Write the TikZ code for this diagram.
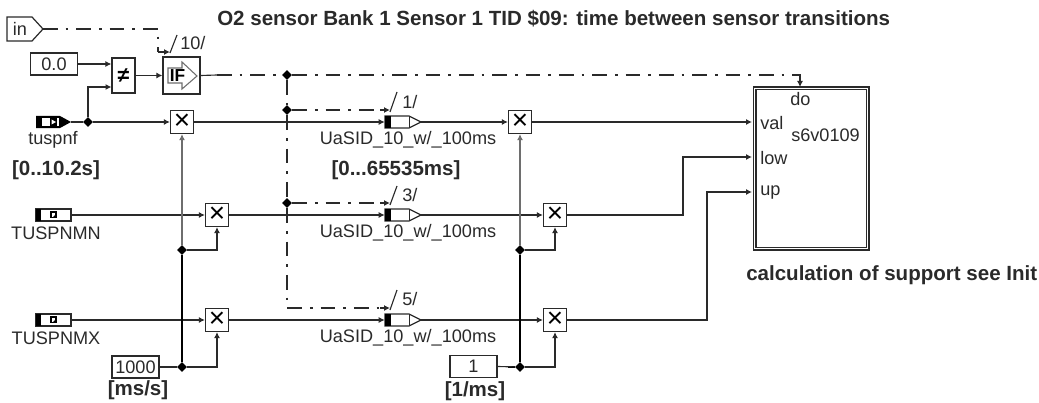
\documentclass[tikz,border=0pt]{standalone}
\usepackage{fontspec}
\setmainfont{Liberation Sans}
\usetikzlibrary{arrows.meta,positioning,calc,shapes.geometric}
\definecolor{ink}{HTML}{2A2A2A}
\definecolor{wiregray}{HTML}{6E6E6E}
\def\px{0.75pt}
\tikzset{
  txt/.style={inner sep=0pt, font=\fontsize{13.6}{16}\selectfont, text=ink},
  boldtxt/.style={inner sep=0pt, font=\bfseries\fontsize{15.4}{18}\selectfont, text=ink},
  wire/.style={draw=ink, line width=0.85pt},
  graywire/.style={draw=wiregray, line width=1.5pt},
  bus/.style={draw=black, line width=2.2pt},
  ctrl/.style={draw=ink, line width=0.85pt, dash pattern=on 11pt off 6pt on 2pt off 6pt},
  mulbox/.style={draw=ink, fill=white, line width=0.9pt, minimum size=23*\px, inner sep=0pt,
    font=\fontsize{21}{21}\selectfont},
  constbox/.style={draw=ink, fill=white, line width=0.9pt, minimum width=47*\px, minimum height=22*\px,
    inner sep=0pt, font=\fontsize{13.6}{16}\selectfont, text=ink},
  junction/.style={diamond, fill=black, minimum size=10*\px, inner sep=0pt},
  iconframe/.style={minimum width=36*\px, minimum height=12*\px, inner sep=0pt},
}
% output block with black foot and open tip
\newcommand{\outicon}[2]{
  \node[iconframe] (#1) at (403,#2) {};
  \fill[white] (391,#2-6) rectangle (409,#2+6);
  \draw[draw=ink, line width=0.9pt] (385,#2-6) -- (409,#2-6) -- (421,#2) -- (409,#2+6) -- (385,#2+6) -- cycle;
  \draw[draw=ink, line width=0.7pt] (409,#2-6) -- (409,#2+6);
  \fill[black] (385,#2-6) rectangle (391,#2+6);
}
% parameter block with notched glyph
\newcommand{\parmicon}[2]{
  \node[iconframe] (#1) at (53,#2) {};
  \draw[draw=ink, line width=0.9pt, fill=white] (36,#2-6) rectangle (71,#2+6);
  \fill[black] (36,#2-6) rectangle (41,#2+6);
  \fill[black] (50,#2-4) rectangle (57,#2+3);
  \fill[white] (51.5,#2-2.5) rectangle (55,#2+2) ;
  \fill[black] (53,#2+2) -- (55,#2+2) -- (55,#2) -- cycle;
}
\begin{document}
\begin{tikzpicture}[x=0.75pt, y=-0.75pt, >={Latex[length=4.5pt,width=4.5pt]}]
\useasboundingbox (0,0) rectangle (1039,403);
\node[boldtxt, anchor=west] (title) at (217,19) {O2 sensor Bank 1 Sensor 1 TID \$09: time between sensor transitions};
% inputs
\node[txt] (inlabel) at (20,29) {in};
\draw[draw=ink, line width=0.9pt] (7,17) -- (32,17) -- (43,29) -- (32,41) -- (7,41) -- cycle;
\coordinate (inport) at (43,29);
\node[constbox] (zero) at (54,64) {0.0};
\node[iconframe] (tuspnf) at (53,122) {};
\fill[black] (36,116) -- (60,116) -- (71,122) -- (60,128) -- (36,128) -- cycle;
\fill[white] (42,118) rectangle (59,126);
\fill[black] (50,118.5) rectangle (57,125.5);
\fill[white] (51.5,119.5) -- (56,122) -- (51.5,124.5) -- cycle;
\node[txt] (tuspnflabel) at (53,140) {tuspnf};
\node[boldtxt] (tuspnfrange) at (56,170) {[0..10.2s]};
\parmicon{tuspnmn}{215}
\node[txt] (tuspnmnlabel) at (56,233) {TUSPNMN};
\parmicon{tuspnmx}{320}
\node[txt] (tuspnmxlabel) at (56,338) {TUSPNMX};
\node[constbox] (kms) at (135.5,367) {1000};
\node[boldtxt] (kmsunit) at (138,390) {[ms/s]};
\node[constbox] (kone) at (473.5,366.5) {1};
\node[boldtxt] (koneunit) at (475,391) {[1/ms]};
% compare and switch
\node[draw=ink, fill=white, line width=0.9pt, minimum width=23*\px, minimum height=35*\px, inner sep=0pt,
  font=\bfseries\fontsize{16}{16}\selectfont] (neq) at (123.5,75.5) {≠};
\node[draw=ink, fill=white, line width=0.9pt, minimum width=37*\px, minimum height=37*\px] (ifbox) at (181.5,75.5) {};
\draw[draw=wiregray, line width=0.8pt, fill=white] (168,68) -- (182,68) -- (182,62) -- (197,76) -- (182,89) -- (182,83) -- (168,83) -- cycle;
\node[inner sep=0pt, font=\bfseries\fontsize{13}{13}\selectfont] (iflabel) at (177.5,76) {IF};
% multipliers
\node[mulbox] (mula) at (182,122) {×};
\node[mulbox] (mulb) at (217,215) {×};
\node[mulbox] (mulc) at (217,320) {×};
\node[mulbox] (muld) at (520,122) {×};
\node[mulbox] (mule) at (555,215) {×};
\node[mulbox] (mulf) at (555,320) {×};
\outicon{uaa}{122}
\outicon{uab}{215}
\outicon{uac}{320}
\node[txt] (uaalabel) at (408,140) {UaSID\_10\_w/\_100ms};
\node[txt] (uablabel) at (408,233) {UaSID\_10\_w/\_100ms};
\node[txt] (uaclabel) at (408,338) {UaSID\_10\_w/\_100ms};
\node[boldtxt] (uarange) at (396,170) {[0...65535ms]};
% target block
\node[draw=ink, double=white, double distance=1.2pt, line width=0.9pt, minimum width=113*\px, minimum height=160*\px] (sub) at (811,168.5) {};
\node[txt, anchor=west] (dolabel) at (790,99) {do};
\node[txt, anchor=west] (vallabel) at (760,123) {val};
\node[txt, anchor=west] (namelabel) at (791,135) {s6v0109};
\node[txt, anchor=west] (lowlabel) at (760,158) {low};
\node[txt, anchor=west] (uplabel) at (760,193) {up};
\node[boldtxt, anchor=west] (subnote) at (746,275) {calculation of support see Init};
\coordinate (portdo) at (800,87);
\coordinate (portval) at (752,122);
\coordinate (portlow) at (752,157);
\coordinate (portup) at (752,192);
% junctions
\node[junction] (jtus) at (88,122) {};
\node[junction] (jctrl) at (287,75) {};
\node[junction] (jctrla) at (287,110) {};
\node[junction] (jctrlb) at (287,203) {};
\node[junction] (jkmsa) at (182,250) {};
\node[junction] (jkmsb) at (182,367) {};
\node[junction] (jkonea) at (520,250) {};
\node[junction] (jkoneb) at (520,367) {};
% signal wires
\draw[wire,->] (zero.east) -- (neq.west |- zero.east);
\draw[wire,->] (jtus) |- (111.5,87);
\draw[wire] (tuspnf.east) -- (jtus);
\draw[wire,->] (jtus) -- (mula.west);
\draw[wire,->] (neq.east) -- (ifbox.west |- neq.east);
\draw[wire,->] (tuspnmn.east) -- (mulb.west);
\draw[wire,->] (tuspnmx.east) -- (mulc.west);
\draw[wire,->] (mula.east) -- (uaa.west);
\draw[wire,->] (mulb.east) -- (uab.west);
\draw[wire,->] (mulc.east) -- (uac.west);
\draw[wire,->] (uaa.east) -- (muld.west);
\draw[wire,->] (uab.east) -- (mule.west);
\draw[wire,->] (uac.east) -- (mulf.west);
\draw[wire,->] (muld.east) -- (portval);
\draw[wire,->] (mule.east) -| (683,157) -- (portlow);
\draw[wire,->] (mulf.east) -| (707,192) -- (portup);
% constant buses
\draw[graywire,->] (jkmsa) -- (mula.south);
\draw[bus] (jkmsa) -- (jkmsb);
\draw[bus] (171,367) -- (jkmsb);
\draw[wire] (kms.east) -- (jkmsb);
\draw[wire,->] (jkmsa) -| (mulb.south);
\draw[wire,->] (jkmsb) -| (mulc.south);
\draw[graywire,->] (jkonea) -- (muld.south);
\draw[bus] (jkonea) -- (jkoneb);
\draw[bus] (508,367) -- (jkoneb);
\draw[wire] (kone.east) -- (jkoneb);
\draw[wire,->] (jkonea) -| (mule.south);
\draw[wire,->] (jkoneb) -| (mulf.south);
% enable lines
\coordinate (inknee) at (158,29);
\coordinate (inend) at (170,52);
\draw[ctrl] (inport) -- (inknee) -- (158,52);
\draw[wire,->] (158,52) -- (inend);
\draw[wire] (ifbox.east) -- (217,75);
\draw[ctrl,line width=1.2pt] (217,75) -- (jctrl);
\draw[ctrl] (jctrl) -- (800,75) -- (800,80);
\draw[wire,->] (800,80) -- (portdo);
\draw[ctrl,line width=1.2pt] (jctrl) -- (jctrla);
\draw[ctrl,line width=1.2pt] (jctrla) -- (jctrlb);
\draw[ctrl] (jctrlb) -- (287,308) -- (380,308);
\draw[wire,->] (380,308) -- (390,308);
\draw[ctrl] (jctrla) -- (380,110);
\draw[wire,->] (380,110) -- (390,110);
\draw[ctrl] (jctrlb) -- (380,203);
\draw[wire,->] (380,203) -- (390,203);
% sequence marks
\draw[wire] (170,53) -- (177,35);
\node[txt, anchor=west] (seqif) at (180,43) {10/};
\draw[wire] (390,112) -- (397,92);
\node[txt, anchor=west] (seqa) at (402,102) {1/};
\draw[wire] (390,205) -- (397,186);
\node[txt, anchor=west] (seqb) at (402,195) {3/};
\draw[wire] (390,310) -- (397,290);
\node[txt, anchor=west] (seqc) at (402,299) {5/};
\end{tikzpicture}
\end{document}
